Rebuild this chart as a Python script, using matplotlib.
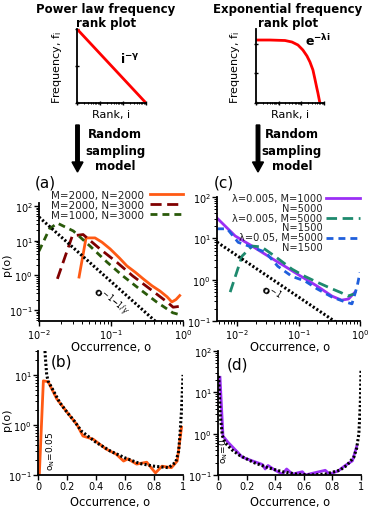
import matplotlib
matplotlib.use('Agg')
import matplotlib.pyplot as plt
from matplotlib.patches import FancyArrow
from matplotlib.legend_handler import HandlerLine2D

W, H = 373, 510

# schematic rank plots (top row)
pow_rank = [1, 1000]
pow_freq = [1, 1e-4]
exp_rank = [1, 4.1, 19, 38.6, 71, 117, 177, 240, 325, 397, 484, 540, 595, 660]
exp_freq = [1.8, 1.8, 1.67, 1.32, 0.83, 0.38, 0.15, 0.059, 0.017, 0.0042, 0.001, 0.00047, 0.00022, 0.0001]

# panel (a): power law sampling, log-log
a_labels = ['M=2000, N=2000', 'M=2000, N=3000', 'M=1000, N=3000']
a1_o = [0.036, 0.045, 0.06, 0.075, 0.097, 0.13, 0.166, 0.22, 0.28, 0.37, 0.48, 0.6, 0.70, 0.8, 0.9]
a1_p = [0.89, 12, 12, 9, 5.8, 3.2, 1.87, 1.2, 0.79, 0.5, 0.35, 0.24, 0.17, 0.2, 0.26]
a2_o = [0.018, 0.029, 0.041, 0.07, 0.12, 0.2, 0.35, 0.6, 0.73, 0.97]
a2_p = [0.79, 13.7, 15, 5.8, 2.4, 0.96, 0.4, 0.17, 0.12, 0.13]
a3_o = [0.01, 0.014, 0.018, 0.03, 0.051, 0.088, 0.146, 0.25, 0.43, 0.72, 0.97]
a3_p = [5, 22, 32, 19, 7, 2.4, 0.96, 0.4, 0.17, 0.083, 0.07]
a_ref_o = [0.01, 1]
a_ref_p = [48, 0.0091]

# panel (c): exponential sampling, log-log
c_labels = ['\u03bb=0.005, M=1000\nN=5000', '\u03bb=0.005, M=5000\nN=1500', '\u03bb=0.05, M=5000\nN=1500']
c1_o = [0.0047, 0.0093, 0.0175, 0.032, 0.06, 0.11, 0.2, 0.35, 0.5, 0.65, 0.83]
c1_p = [31, 11.4, 6.5, 3.7, 2.1, 1.2, 0.7, 0.4, 0.32, 0.34, 0.5]
c2_o = [0.0077, 0.012, 0.0175, 0.025, 0.041, 0.078, 0.127, 0.2, 0.35, 0.5, 0.63, 0.8]
c2_p = [0.5, 3.7, 6.5, 6.2, 3.7, 1.8, 1.2, 0.87, 0.6, 0.48, 0.4, 0.45]
c3_o = [0.0047, 0.0069, 0.0104, 0.0175, 0.029, 0.046, 0.078, 0.127, 0.2, 0.35, 0.57, 0.74, 0.9, 1.0]
c3_p = [17, 17, 8, 6.1, 4.6, 2.1, 1.2, 0.93, 0.6, 0.38, 0.29, 0.26, 0.7, 1.5]
c_ref_o = [0.0047, 1]
c_ref_p = [8.1, 0.038]

# panel (b): occurrence distribution, power law
b_o = [0.009, 0.037, 0.07, 0.13, 0.2, 0.27, 0.31, 0.38, 0.47, 0.54, 0.59, 0.62, 0.68, 0.75, 0.81, 0.855, 0.92, 0.96, 0.99]
b_p = [0.1, 7.6, 7.3, 3.3, 1.8, 1.0, 0.6, 0.52, 0.33, 0.26, 0.19, 0.21, 0.165, 0.18, 0.11, 0.15, 0.14, 0.19, 0.9]
b_th_o = [0.048, 0.052, 0.06, 0.07, 0.1, 0.15, 0.2, 0.25, 0.3, 0.4, 0.5, 0.6, 0.7, 0.8, 0.9, 0.95, 0.97, 0.98, 0.99, 1.0]
b_th_p = [30, 20, 10, 7.5, 5.2, 2.8, 1.8, 1.2, 0.75, 0.45, 0.3, 0.22, 0.17, 0.15, 0.14, 0.18, 0.3, 0.7, 2, 10]

# panel (d): occurrence distribution, exponential
d_o = [0.014, 0.035, 0.07, 0.17, 0.24, 0.31, 0.33, 0.35, 0.4, 0.45, 0.48, 0.52, 0.59, 0.61, 0.66, 0.75, 0.78, 0.84, 0.89, 0.94, 0.97]
d_p = [23, 0.87, 0.62, 0.27, 0.22, 0.18, 0.14, 0.17, 0.13, 0.105, 0.14, 0.105, 0.12, 0.1, 0.11, 0.13, 0.105, 0.125, 0.17, 0.22, 0.49]
d_th_o = [0.005, 0.015, 0.03, 0.05, 0.1, 0.15, 0.25, 0.35, 0.45, 0.55, 0.65, 0.75, 0.85, 0.9, 0.95, 0.97, 0.985, 0.995, 1.0]
d_th_p = [25, 3, 0.9, 0.6, 0.4, 0.3, 0.2, 0.15, 0.12, 0.105, 0.1, 0.105, 0.13, 0.17, 0.27, 0.45, 1.0, 5, 35]

lin_ticks = [0, 0.2, 0.4, 0.6, 0.8, 1]
lin_labels = ['0', '0.2', '0.4', '0.6', '0.8', '1']

ORANGE = '#ff5a14'
DARKRED = '#800000'
GREEN = '#2a5a0a'
PURPLE = '#9b2ff5'
TEAL = '#1e8a6e'
BLUE = '#1f5fdc'
DOT = dict(color='black', lw=2.2, dashes=(0.7, 0.7))

fig = plt.figure(figsize=(W / 100, H / 100), dpi=100)


def rect(x0, y0, x1, y1):
    return [x0 / W, 1 - y1 / H, (x1 - x0) / W, (y1 - y0) / H]


def ft(x, y, s, **kw):
    fig.text(x / W, 1 - y / H, s, **kw)


def style(ax, small=False):
    for s in ['top', 'right']:
        ax.spines[s].set_visible(False)
    for s in ['left', 'bottom']:
        ax.spines[s].set_linewidth(1.3)
    ax.tick_params(which='major', length=3.5, width=1, labelsize=7, pad=1)
    ax.tick_params(which='minor', length=2, width=0.7)
    if small:
        ax.tick_params(which='both', direction='inout', labelleft=False, labelbottom=False)


class FirstLineHandler(HandlerLine2D):
    # put the legend line next to the first line of a two-line label
    def create_artists(self, legend, orig_handle, xdescent, ydescent, width, height, fontsize, trans):
        arts = super().create_artists(legend, orig_handle, xdescent, ydescent, width, height,
                                      fontsize, trans)
        for a in arts:
            a.set_ydata([y + 0.5 * fontsize for y in a.get_ydata()])
        return arts


# top-left: power law schematic
ax = fig.add_axes(rect(77, 30, 146, 104))
ax.loglog(pow_rank, pow_freq, color='red', lw=2)
ax.set_xlim(1, 1000)
ax.set_ylim(1e-4, 1)
style(ax, small=True)
ax.text(0.62, 0.55, r'$\mathbf{i}^{\mathbf{-\gamma}}$', transform=ax.transAxes, fontsize=9)

# top-right: exponential schematic
ax = fig.add_axes(rect(256, 30, 324, 104))
ax.loglog(exp_rank, exp_freq, color='red', lw=2)
ax.set_xlim(1, 1000)
ax.set_ylim(1e-4, 10)
style(ax, small=True)
ax.text(0.72, 0.78, r'$\mathbf{e}^{\mathbf{-\lambda i}}$', transform=ax.transAxes, fontsize=9)

for cx, t1 in [(106, 'Power law frequency'), (288, 'Exponential frequency')]:
    ft(cx, 10, t1, ha='center', va='center', fontsize=8.5, fontweight='bold')
    ft(cx, 23, 'rank plot', ha='center', va='center', fontsize=8.5, fontweight='bold')
for x in [57, 235]:
    ft(x, 67, 'Frequency, f$_{\\mathregular{i}}$', ha='center', va='center', rotation=90, fontsize=8)
for x in [111, 290]:
    ft(x, 115, 'Rank, i', ha='center', va='center', fontsize=8)

# arrows and "Random sampling model"
for ax_x, tx in [(77.5, 115), (258, 292)]:
    fig.add_artist(FancyArrow(ax_x / 100, (H - 126) / 100, 0, -0.47, width=0.035,
                              head_width=0.11, head_length=0.1, length_includes_head=True,
                              color='black', transform=fig.dpi_scale_trans))
    ft(tx, 135, 'Random', ha='center', va='center', fontsize=8.5, fontweight='bold')
    ft(tx, 151, 'sampling', ha='center', va='center', fontsize=8.5, fontweight='bold')
    ft(tx, 167, 'model', ha='center', va='center', fontsize=8.5, fontweight='bold')

# panel (a)
ax = fig.add_axes(rect(39, 204, 183, 322))
ax.loglog(a1_o, a1_p, color=ORANGE, lw=2, label=a_labels[0])
ax.loglog(a2_o, a2_p, color=DARKRED, lw=2, dashes=(4, 2), label=a_labels[1])
ax.loglog(a3_o, a3_p, color=GREEN, lw=2, dashes=(2.5, 1.8), label=a_labels[2])
ax.loglog(a_ref_o, a_ref_p, **DOT)
ax.set_xlim(0.01, 1)
ax.set_ylim(0.048, 122)
style(ax)
ax.text(0.5, 0.17, r'$\mathbf{o}^{-1\mathbf{-}1/\gamma}$', transform=ax.transAxes,
        fontsize=8, rotation=-40, ha='center', va='center')
ax.legend(loc='upper right', bbox_to_anchor=(183 / W, 1 - 191 / H), bbox_transform=fig.transFigure,
          frameon=False, fontsize=7.5, markerfirst=False, handlelength=3.2, handletextpad=0.5,
          labelspacing=0.0, borderpad=0, borderaxespad=0, labelcolor='#222222')
ft(45, 183, '(a)', ha='center', va='center', fontsize=11)
ft(7, 265, 'p(o)', ha='center', va='center', rotation=90, fontsize=8)
ft(111, 348, 'Occurrence, o', ha='center', va='center', fontsize=8.3)

# panel (c)
ax = fig.add_axes(rect(217, 198, 360, 322))
ax.loglog(c1_o, c1_p, color=PURPLE, lw=2, label=c_labels[0])
ax.loglog(c2_o, c2_p, color=TEAL, lw=2, dashes=(3.8, 2), label=c_labels[1])
ax.loglog(c3_o, c3_p, color=BLUE, lw=2, dashes=(2.5, 1.8), label=c_labels[2])
ax.loglog(c_ref_o, c_ref_p, **DOT)
ax.set_xlim(0.0047, 1)
ax.set_ylim(0.1, 100)
style(ax)
ax.text(0.38, 0.24, r'$\mathbf{o}^{-1}$', transform=ax.transAxes,
        fontsize=8, rotation=-33, ha='center', va='center')
leg = ax.legend(loc='upper right', bbox_to_anchor=(360 / W, 1 - 194 / H), bbox_transform=fig.transFigure,
                frameon=False, fontsize=7.1, markerfirst=False, handlelength=3.4, handletextpad=0.4,
                labelspacing=0.0, borderpad=0, borderaxespad=0, labelcolor='#222222',
                handler_map={matplotlib.lines.Line2D: FirstLineHandler()})
for t in leg.get_texts():
    t.set_multialignment('right')
    t.set_linespacing(0.95)
ft(224, 183, '(c)', ha='center', va='center', fontsize=11)
ft(290, 348, 'Occurrence, o', ha='center', va='center', fontsize=8.3)

# panel (b)
ax = fig.add_axes(rect(38, 352, 183, 476))
ax.semilogy(b_o, b_p, color=ORANGE, lw=2)
ax.semilogy(b_th_o, b_th_p, **DOT)
ax.set_xlim(0, 1)
ax.set_ylim(0.1, 30)
ax.set_xticks(lin_ticks)
ax.set_xticklabels(lin_labels)
style(ax)
ax.text(0.085, 0.2, r'o$_{\mathregular{N}}$=0.05', transform=ax.transAxes, rotation=90,
        fontsize=6.5, ha='center', va='center')
ft(61, 362, '(b)', ha='center', va='center', fontsize=11)
ft(7, 420, 'p(o)', ha='center', va='center', rotation=90, fontsize=8)
ft(110, 503, 'Occurrence, o', ha='center', va='center', fontsize=8.3)

# panel (d)
ax = fig.add_axes(rect(218, 352, 361, 476))
ax.semilogy(d_o, d_p, color=PURPLE, lw=2)
ax.semilogy(d_th_o, d_th_p, **DOT)
ax.set_xlim(0, 1)
ax.set_ylim(0.1, 100)
ax.set_xticks(lin_ticks)
ax.set_xticklabels(lin_labels)
style(ax)
ax.text(0.04, 0.2, r'o$_{\mathregular{N}}$=0', transform=ax.transAxes, rotation=90,
        fontsize=6.5, ha='center', va='center')
ft(237, 365, '(d)', ha='center', va='center', fontsize=11)
ft(290, 503, 'Occurrence, o', ha='center', va='center', fontsize=8.3)

fig.savefig('out.png', dpi=100)
